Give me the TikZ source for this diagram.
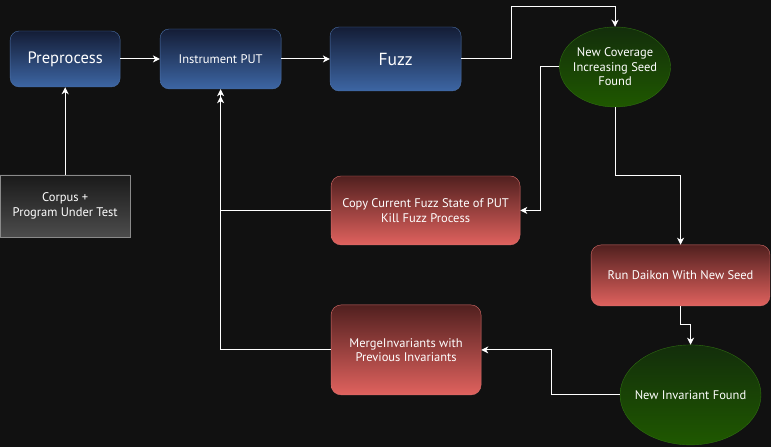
\documentclass[tikz,border=0pt]{standalone}
\usepackage{fontspec}
\setmainfont{PT Sans}
\usetikzlibrary{arrows.meta,shapes.geometric}

\definecolor{bgdark}{HTML}{111111}
\definecolor{bluetop}{HTML}{141D36}
\definecolor{bluebot}{HTML}{3D66A4}
\definecolor{blueline}{HTML}{4B70A8}
\definecolor{redtop}{HTML}{51201F}
\definecolor{redbot}{HTML}{E0625E}
\definecolor{redline}{HTML}{D76C69}
\definecolor{greentop}{HTML}{132E0B}
\definecolor{greenbot}{HTML}{1F5800}
\definecolor{greenline}{HTML}{2E6E10}
\definecolor{greytop}{HTML}{1A1A1A}
\definecolor{greybot}{HTML}{4C4C4C}
\definecolor{greyline}{HTML}{8A8A8A}

\tikzset{
    bluebox/.style={draw=blueline, top color=bluetop, bottom color=bluebot, rounded corners=9pt,
        text=white, align=center, inner sep=0pt},
    redbox/.style={draw=redline, top color=redtop, bottom color=redbot, rounded corners=10pt,
        text=white, align=center, inner sep=0pt, font=\fontsize{12.5}{14.5}\selectfont},
    greenell/.style={ellipse, draw=greenline, top color=greentop, bottom color=greenbot,
        text=white, align=center, inner sep=0pt, inner xsep=-8pt, font=\fontsize{12.5}{14.5}\selectfont},
    greybox/.style={draw=greyline, top color=greytop, bottom color=greybot,
        text=white, align=center, inner sep=0pt, font=\fontsize{12.5}{14.5}\selectfont},
    flow/.style={draw=white, line width=1pt, -{Stealth[length=7pt,width=7pt,inset=2pt]}}
}

\begin{document}
\begin{tikzpicture}[x=1pt,y=-1pt]
        \fill[bgdark] (0,0) rectangle (771,447);
        % top row
        \node[bluebox, minimum width=110pt, minimum height=56pt, font=\fontsize{16.5}{19}\selectfont] (pre) at (65,59) {Preprocess};
        \node[bluebox, minimum width=121pt, minimum height=60pt, font=\fontsize{12.5}{14.5}\selectfont] (instr) at (220.5,59) {Instrument PUT};
        \node[bluebox, minimum width=131pt, minimum height=64pt, font=\fontsize{17.5}{20}\selectfont] (fuzz) at (395.5,59) {Fuzz};
        \node[greenell, minimum width=111pt, minimum height=80pt] (seed) at (615,67) {New Coverage\\Increasing Seed\\Found};
        % input
        \node[greybox, minimum width=130pt, minimum height=62pt] (corpus) at (65,206) {Corpus +\\Program Under Test};
        % loop back
        \node[redbox, minimum width=189pt, minimum height=69pt] (copy) at (425.5,210.5) {Copy Current Fuzz State of PUT\\Kill Fuzz Process};
        \node[redbox, minimum width=179pt, minimum height=61pt] (daikon) at (680.5,275.5) {Run Daikon With New Seed};
        \node[redbox, minimum width=150pt, minimum height=90pt] (merge) at (406,350) {MergeInvariants with\\Previous Invariants};
        \node[greenell, minimum width=141pt, minimum height=100pt] (inv) at (690.5,395) {New Invariant Found};

        \draw[flow] (corpus.north) -- (pre.south);
        \draw[flow] (pre.east) -- (instr.west);
        \draw[flow] (instr.east) -- (fuzz.west);
        \draw[flow] (fuzz.east) -| (511,7) -| (seed.north);
        \draw[flow] (seed.west) -| (540,210.5) -- (copy.east);
        \draw[flow] (seed.south) |- (680.5,176) -- (daikon.north);
        \draw[flow] (daikon.south) |- (690.5,325) -- (inv.north);
        \draw[flow] (inv.west) -| (551,350) -- (merge.east);
        \draw[flow] (copy.west) -| (instr.south);
        \draw[flow, shorten >=7pt] (merge.west) -| (instr.south);
    \end{tikzpicture}
\end{document}
